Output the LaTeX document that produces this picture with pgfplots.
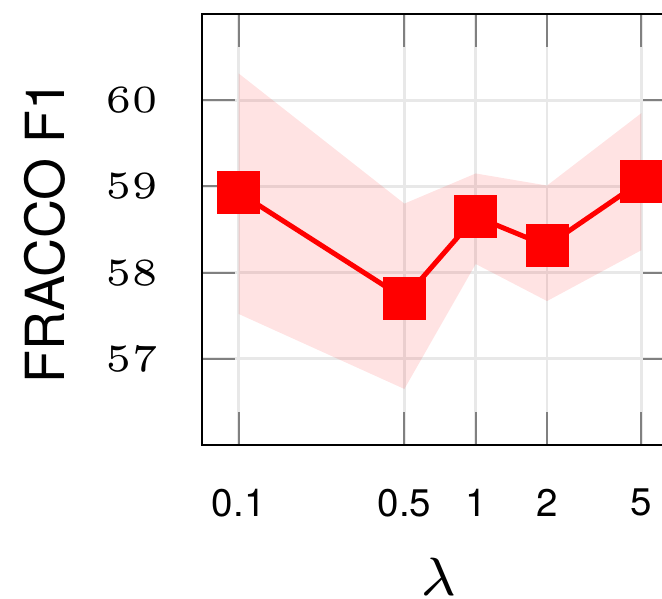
\documentclass[border=0pt]{standalone}
\usepackage{fontspec}
\newfontfamily\hel{TeX Gyre Heros}
\usepackage{pgfplots}
\pgfplotsset{compat=1.18}
\begin{document}
\begin{tikzpicture}
\begin{axis}[
  at={(0,0)}, anchor=south west,
  scale only axis,
  width=61.56pt, height=55.97pt,
  xmode=log,
  xmin=0.07, xmax=7,
  ymin=56, ymax=61,
  xtick={0.1,0.5,1,2,5},
  xticklabels={0.1,0.5,1,2,5},
  minor xtick={},
  ytick={57,58,59,60},
  grid=major,
  major grid style={line width=0.35pt, color=black!9},
  major tick style={line width=0.26pt, color=black!50},
  axis line style={line width=0.35pt, black},
  tick align=inside,
  xticklabel style={font=\tiny\hel, yshift=-2.2pt},
  yticklabel style={font=\tiny, xshift=-2.2pt},
  xlabel={$\lambda$},
  ylabel={\hel FRACCO F1},
  label style={font=\scriptsize},
  xlabel style={at={(axis description cs:0.5,0)}, anchor=base, yshift=-19.5pt},
  ylabel style={at={(axis description cs:-0.289,0.494)}, anchor=base},
]
\addplot[draw=none, fill=red, fill opacity=0.11] coordinates {
  (0.1,60.31) (0.5,58.80) (1,59.15) (2,59.01) (5,59.85)
  (5,58.26) (2,57.67) (1,58.10) (0.5,56.65) (0.1,57.52)
} -- cycle;
\addplot[red, line width=0.65pt, mark=square*, mark size=2.47pt, mark options={fill=red, draw=red}] coordinates {
  (0.1,58.93) (0.5,57.70) (1,58.65) (2,58.31) (5,59.06)
};
\end{axis}
\pgfresetboundingbox
\useasboundingbox (-26.23pt,-19.87pt) rectangle (59.74pt,57.79pt);
\end{tikzpicture}
\end{document}
